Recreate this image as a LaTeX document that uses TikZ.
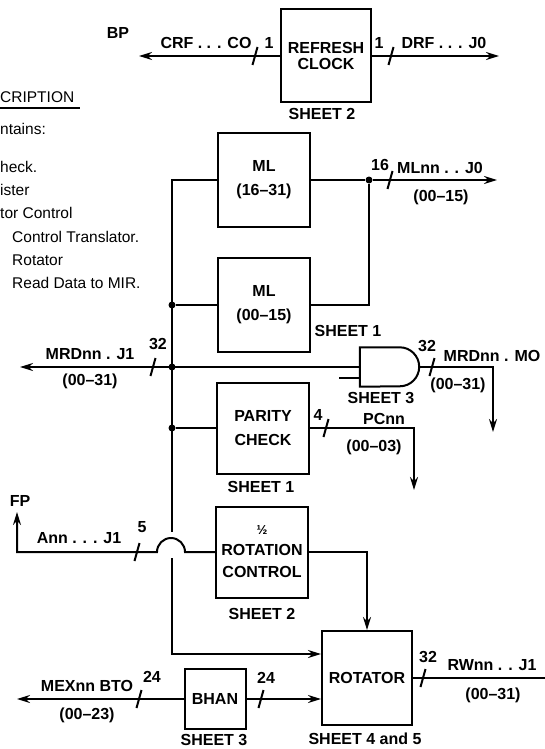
\documentclass[tikz,border=0pt]{standalone}
\usepackage{fontspec}
\setmainfont{Liberation Sans}
\usepackage{tikz}
\usetikzlibrary{arrows.meta,calc}
\tikzset{>={Stealth[length=13pt,width=8pt]}}
\newcommand{\labelfont}{\fontsize{16}{24}\selectfont\bfseries}
\newcommand{\tightfont}{\fontsize{16}{15.5}\selectfont\bfseries}
\newcommand{\descfont}{\fontsize{15.5}{18}\selectfont}
\newcommand{\bustick}[2]{\draw[line width=2pt] (#1,#2) ++(-2.5,9) -- ++(5,-18);}
\tikzset{
  unit/.style={draw, line width=2pt, minimum width=92pt, minimum height=94pt,
    inner sep=0pt, align=center, font=\labelfont},
  sig/.style={inner sep=0pt, font=\labelfont},
  desc/.style={anchor=west, inner sep=0pt, font=\descfont},
  wire/.style={line width=2pt},
  joint/.style={circle, fill, inner sep=0pt, minimum size=7pt}
}

\begin{document}
\begin{tikzpicture}[x=1pt,y=-1pt]
  \useasboundingbox (0,0) rectangle (545,749);

  %% description (cut off at the left edge)
  \node[desc] (dtitle) at (0,97) {CRIPTION};
  \draw[line width=1.3pt] (0,108) -- (80,108);
  \node[desc] (dline0) at (0,129) {ntains:};
  \node[desc] (dline1) at (0,167) {heck.};
  \node[desc] (dline2) at (0,190) {ister};
  \node[desc] (dline3) at (0,213) {tor Control};
  \node[desc] (dline4) at (12,237) {Control Translator.};
  \node[desc] (dline5) at (12,260) {Rotator};
  \node[desc] (dline6) at (12,283) {Read Data to MIR.};

  %% refresh clock
  \node[unit, minimum width=90pt, minimum height=93pt, font=\tightfont] (refresh) at (326,56) {REFRESH\\CLOCK};
  \node[sig] (refsheet) at (322,114) {SHEET 2};
  \coordinate (bp) at (139,56);
  \coordinate (drf) at (499,56);
  \draw[wire,->] (refresh.west) -- (bp);
  \draw[wire,->] (refresh.east) -- (drf);
  \bustick{255}{56}
  \bustick{391}{56}
  \node[sig] (bplbl) at (118,33) {BP};
  \node[sig] (crflbl) at (206,43) {CRF . . . CO};
  \node[sig] (crfw) at (269,43) {1};
  \node[sig] (drfw) at (379,43) {1};
  \node[sig] (drflbl) at (444,43) {DRF . . . J0};

  %% memory latches
  \node[unit] (mlhi) at (264,180) {ML\\(16--31)};
  \node[unit] (mllo) at (264,305) {ML\\(00--15)};
  \node[sig] (mlsheet) at (348,331) {SHEET 1};
  \node[joint] (mldot) at (369,180) {};
  \coordinate (mlout) at (497,180);
  \draw[wire] (mlhi.east) -- (mldot);
  \draw[wire,->] (mldot) -- (mlout);
  \draw[wire] (mldot) |- (mllo.east);
  \bustick{390}{180}
  \node[sig] (mlw) at (380,165) {16};
  \node[sig] (mllbl) at (440,168) {MLnn . . J0};
  \node[sig] (mlrng) at (441,197) {(00--15)};

  %% read data bus
  \coordinate (bushop) at (172,532);
  \draw[wire] (mlhi.west) -| (bushop);
  \node[joint] (jml) at (172,305) {};
  \node[joint] (jmrd) at (172,367) {};
  \node[joint] (jpar) at (172,428) {};
  \draw[wire] (jml) -- (mllo.west);

  %% gate to MIR
  \node[minimum width=59pt, minimum height=39pt, inner sep=0pt] (gate) at (389.5,367) {};
  \draw[wire] (gate.north west) -- ([xshift=-19.5pt]gate.north east)
    arc[start angle=90, end angle=-90, radius=19.5pt] -- (gate.south west) -- cycle;
  \draw[wire] ([yshift=-11pt]gate.west) -- ++(-21,0);
  \coordinate (mrdj1) at (20,367);
  \coordinate (mrdmo) at (493,432);
  \draw[wire,->] (gate.west) -- (mrdj1);
  \draw[wire,->] (gate.east) -| (mrdmo);
  \bustick{153}{367}
  \bustick{432}{367}
  \node[sig] (mrdw) at (158,344) {32};
  \node[sig] (mrdlbl) at (90,354) {MRDnn . J1};
  \node[sig] (mrdrng) at (90,381) {(00--31)};
  \node[sig] (mow) at (427,346) {32};
  \node[sig] (molbl) at (492,356) {MRDnn . MO};
  \node[sig] (morng) at (458,385) {(00--31)};
  \node[sig] (gatesheet) at (381,398) {SHEET 3};

  %% parity check
  \node[unit, minimum height=91pt] (parity) at (263,428) {PARITY\\CHECK};
  \node[sig] (parsheet) at (261,487) {SHEET 1};
  \draw[wire] (jpar) -- (parity.west);
  \coordinate (pcnn) at (414,490);
  \draw[wire,->] (parity.east) -| (pcnn);
  \bustick{326}{428}
  \node[sig] (parw) at (318,415) {4};
  \node[sig] (parlbl) at (384,419) {PCnn};
  \node[sig] (parrng) at (374,447) {(00--03)};

  %% rotation control
  \node[unit, minimum height=91pt] (rotctl) at (262,552) {{\fontsize{13}{14}\selectfont ½}\\[-3pt]ROTATION\\[-2pt]CONTROL};
  \node[sig] (rcsheet) at (262,614) {SHEET 2};
  \coordinate (hope) at (185,552);
  \coordinate (fpcorner) at (17,552);
  \coordinate (fp) at (17,512);
  \draw[wire,->] (rotctl.west) -- (hope) arc[start angle=0, end angle=180, radius=14pt]
    -- (fpcorner) -- (fp);
  \bustick{137}{552}
  \node[sig] (fplbl) at (20,501) {FP};
  \node[sig] (annlbl) at (79,538) {Ann . . . J1};
  \node[sig] (annw) at (142,527) {5};

  %% rotator
  \node[unit, minimum width=90pt] (rotator) at (367,678) {ROTATOR};
  \node[sig] (rotsheet) at (365,739) {SHEET 4 and 5};
  \coordinate (busres) at (172,558);
  \draw[wire,->] (busres) |- ([yshift=24pt]rotator.west);
  \draw[wire,->] (rotctl.east) -| (rotator.north);
  \coordinate (rwnn) at (545,678);
  \draw[wire] (rotator.east) -- (rwnn);
  \bustick{423}{678}
  \node[sig] (rww) at (428,657) {32};
  \node[sig] (rwlbl) at (492,665) {RWnn . . J1};
  \node[sig] (rwrng) at (493,695) {(00--31)};

  %% bhan
  \node[unit, minimum width=61pt, minimum height=60pt] (bhan) at (215,699) {BHAN};
  \node[sig] (bhsheet) at (214,740) {SHEET 3};
  \coordinate (mex) at (17,699);
  \draw[wire,->] (bhan.east) -- ([yshift=-21pt]rotator.west);
  \draw[wire,->] (bhan.west) -- (mex);
  \bustick{261}{699}
  \bustick{139}{699}
  \node[sig] (bhw) at (266,678) {24};
  \node[sig] (mexw) at (152,677) {24};
  \node[sig] (mexlbl) at (87,686) {MEXnn BTO};
  \node[sig] (mexrng) at (87,715) {(00--23)};
\end{tikzpicture}
\end{document}
